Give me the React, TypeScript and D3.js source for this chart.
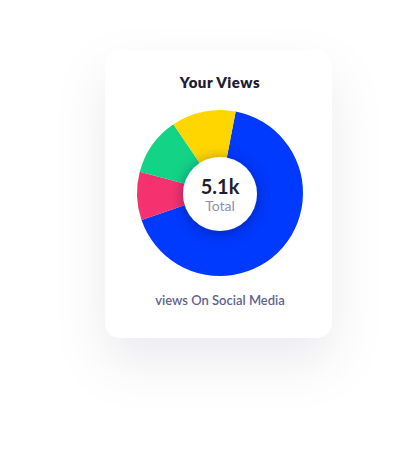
import React, { useEffect, useRef } from "react";
import * as d3 from "d3";

// slices, clockwise from just right of 12 o'clock
const sources = ["Blue", "Pink", "Green", "Yellow"];
const shares = [66.7, 9.4, 11.4, 12.5];
const colors = ["#0039ff", "#f5326f", "#12d386", "#ffd600"];
const totalLabel = "5.1k";

const App = () => {
  const ref = useRef<SVGSVGElement>(null);

  useEffect(() => {
    const svg = d3.select(ref.current);
    svg.selectAll("*").remove();

    const width = 407;
    const height = 468;
    const cx = 220;
    const cy = 193;
    const outerR = 83;
    const holeR = 37;

    const defs = svg.append("defs");

    // soft card shadow
    const cardShadow = defs
      .append("filter")
      .attr("id", "card-shadow")
      .attr("x", "-50%")
      .attr("y", "-50%")
      .attr("width", "200%")
      .attr("height", "200%");
    cardShadow
      .append("feDropShadow")
      .attr("dx", 0)
      .attr("dy", 24)
      .attr("stdDeviation", 26)
      .attr("flood-color", "#1b2440")
      .attr("flood-opacity", 0.08);

    // shadow that the hole casts on the ring
    const holeShadow = defs
      .append("filter")
      .attr("id", "hole-shadow")
      .attr("x", "-50%")
      .attr("y", "-50%")
      .attr("width", "200%")
      .attr("height", "200%");
    holeShadow
      .append("feDropShadow")
      .attr("dx", 0)
      .attr("dy", 2)
      .attr("stdDeviation", 7)
      .attr("flood-color", "#000a40")
      .attr("flood-opacity", 0.4);

    svg.append("rect").attr("width", width).attr("height", height).attr("fill", "#ffffff");

    // card
    svg
      .append("rect")
      .attr("x", 105)
      .attr("y", 50)
      .attr("width", 227)
      .attr("height", 288)
      .attr("rx", 16)
      .attr("fill", "#ffffff")
      .attr("filter", "url(#card-shadow)");

    svg
      .append("text")
      .attr("x", cx)
      .attr("y", 88)
      .attr("text-anchor", "middle")
      .attr("font-family", "Lato, 'Noto Sans', sans-serif")
      .attr("font-weight", 800)
      .attr("font-size", 15)
      .attr("letter-spacing", 0.5)
      .attr("fill", "#1d2033")
      .text("Your Views");

    // donut
    const pie = d3
      .pie<number>()
      .sort(null)
      .value((d) => d)
      .startAngle(0.19)
      .endAngle(0.19 + Math.PI * 2);

    const arc = d3.arc<d3.PieArcDatum<number>>().innerRadius(0).outerRadius(outerR);

    const g = svg.append("g").attr("transform", `translate(${cx},${cy})`);

    g.selectAll("path")
      .data(pie(shares))
      .enter()
      .append("path")
      .attr("d", arc)
      .attr("fill", (d, i) => colors[i])
      .append("title")
      .text((d, i) => `${sources[i]}: ${shares[i]}%`);

    g.append("circle")
      .attr("r", holeR)
      .attr("cy", 1)
      .attr("fill", "#ffffff")
      .attr("filter", "url(#hole-shadow)");

    g.append("text")
      .attr("y", 1)
      .attr("text-anchor", "middle")
      .attr("font-family", "Lato, 'Noto Sans', sans-serif")
      .attr("font-weight", 700)
      .attr("font-size", 20)
      .attr("fill", "#1d2033")
      .text(totalLabel);

    g.append("text")
      .attr("y", 18)
      .attr("text-anchor", "middle")
      .attr("font-family", "Lato, 'Noto Sans', sans-serif")
      .attr("font-weight", 400)
      .attr("font-size", 14)
      .attr("fill", "#8c90ad")
      .text("Total");

    svg
      .append("text")
      .attr("x", cx)
      .attr("y", 305)
      .attr("text-anchor", "middle")
      .attr("font-family", "Lato, 'Noto Sans', sans-serif")
      .attr("font-weight", 600)
      .attr("font-size", 13)
      .attr("fill", "#5e6390")
      .text("views On Social Media");
  }, []);

  return (
    <svg
      ref={ref}
      width={407}
      height={468}
      style={{ position: "absolute", left: 0, top: 0, display: "block" }}
    />
  );
};

export default App;
